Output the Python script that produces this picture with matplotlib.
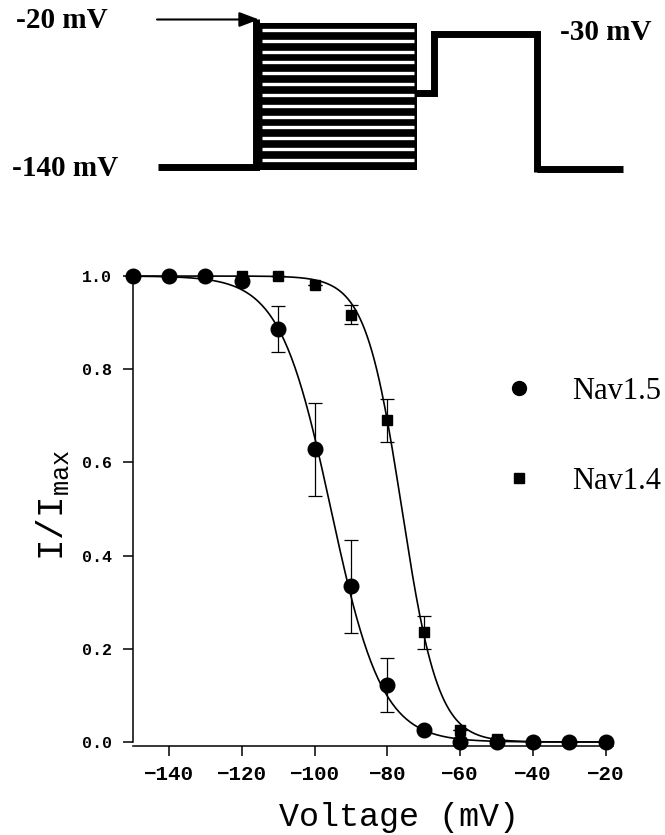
import numpy as np
import matplotlib
matplotlib.use("Agg")
import matplotlib.pyplot as plt
from matplotlib.lines import Line2D

plt.rcParams['mathtext.fontset'] = 'custom'
plt.rcParams['mathtext.rm'] = 'Liberation Mono'
plt.rcParams['mathtext.it'] = 'Liberation Mono'

# ---- data ----
nav15_v = [-150, -140, -130, -120, -110, -100, -90, -80, -70, -60, -50, -40, -30, -20]
nav15_i = [1.0, 1.0, 1.0, 0.99, 0.886, 0.628, 0.334, 0.122, 0.025, 0.0, 0.0, 0.0, 0.0, 0.0]
nav15_err = [0, 0, 0, 0, 0.05, 0.10, 0.10, 0.058, 0, 0, 0, 0, 0, 0]

nav14_v = [-120, -110, -100, -90, -80, -70, -60, -50, -40, -30, -20]
nav14_i = [1.0, 1.0, 0.981, 0.917, 0.69, 0.235, 0.025, 0.007, 0.0, 0.0, 0.0]
nav14_err = [0, 0, 0, 0.02, 0.046, 0.035, 0, 0, 0, 0, 0]

# Boltzmann fit parameters (V1/2, slope k) for the drawn fit curves
nav15_fit = (-95.5, 7.0)
nav14_fit = (-76.0, 5.0)

xticks = [-140, -120, -100, -80, -60, -40, -20]
yticks = [0.0, 0.2, 0.4, 0.6, 0.8, 1.0]

W, H = 665, 835
fig = plt.figure(figsize=(W / 100, H / 100), dpi=100)

# ---- main axes ----
ax = fig.add_axes([132.5 / W, 1 - 745.5 / H, 480.5 / W, 478.8 / H])
ax.set_xlim(-150, -18)
ax.set_ylim(-0.0075, 1.02)

vv = np.linspace(-150, -20, 400)
for (vh, k) in (nav15_fit, nav14_fit):
    ax.plot(vv, 1.0 / (1.0 + np.exp((vv - vh) / k)), color='black', lw=1.2, zorder=2)

ax.errorbar(nav15_v, nav15_i, yerr=nav15_err, fmt='none', ecolor='black',
            elinewidth=0.9, capsize=4.7, capthick=0.9, zorder=3, clip_on=False)
ax.errorbar(nav14_v, nav14_i, yerr=nav14_err, fmt='none', ecolor='black',
            elinewidth=0.9, capsize=4.7, capthick=0.9, zorder=3, clip_on=False)
ax.plot(nav14_v, nav14_i, 's', color='black', ms=7.5, zorder=4, clip_on=False)
ax.plot(nav15_v, nav15_i, 'o', color='black', ms=10.5, zorder=5, clip_on=False)

for s in ('top', 'right'):
    ax.spines[s].set_visible(False)
ax.spines['left'].set_bounds(0, 1)
ax.spines['left'].set_linewidth(1.1)
ax.spines['bottom'].set_linewidth(1.1)
ax.set_xticks(xticks)
ax.set_yticks(yticks)
ax.set_yticklabels([f"{t:.1f}" for t in yticks])
ax.tick_params(axis='both', direction='out', length=7, width=1.1, color='black')
ax.tick_params(axis='x', pad=7)
ax.tick_params(axis='y', pad=8)
for lab in ax.get_xticklabels():
    lab.set_fontfamily(['Liberation Mono', 'DejaVu Sans Mono'])
    lab.set_fontweight('bold')
    lab.set_fontsize(15)
for lab in ax.get_yticklabels():
    lab.set_fontfamily(['Liberation Mono', 'DejaVu Sans Mono'])
    lab.set_fontweight('bold')
    lab.set_fontsize(12)

ax.set_xlabel('Voltage (mV)', fontfamily='Liberation Mono', fontsize=24)
ax.xaxis.set_label_coords((399 - 132.5) / 480.5, -0.119)
ax.set_ylabel(r'$\mathrm{I/I_{max}}$', fontsize=26)
ax.yaxis.set_label_coords(-0.128, 0.502)

handles = [Line2D([], [], ls='none', marker='o', color='black', ms=10),
           Line2D([], [], ls='none', marker='s', color='black', ms=7)]
fig.legend(handles, ['Nav1.5', 'Nav1.4'], loc='center left',
           bbox_to_anchor=(482 / W, 1 - 436.5 / H), frameon=False,
           prop={'family': 'Liberation Serif', 'size': 22},
           handlelength=1.0, handletextpad=1.25, labelspacing=2.0, borderpad=0.2)

# ---- voltage protocol diagram (figure pixel coordinates) ----
d = fig.add_axes([0, 0, 1, 1], zorder=-1)
d.set_xlim(0, W)
d.set_ylim(H, 0)
d.axis('off')

lw = 5.0
d.add_patch(plt.Rectangle((259, 23), 158, 147, color='black', lw=0))
stripe_y = 30 + np.arange(13) * 10.83
for y in stripe_y:
    d.plot([262, 414], [y, y], color='white', lw=2.4, solid_capstyle='butt')
d.plot([158, 256, 256], [166.5, 166.5, 19], color='black', lw=lw,
       solid_joinstyle='miter', solid_capstyle='butt')
d.plot([415, 433.5, 433.5, 537, 537], [92.7, 92.7, 34, 34, 172], color='black',
       lw=lw, solid_joinstyle='miter', solid_capstyle='butt')
d.plot([537, 623], [169, 169], color='black', lw=lw, solid_capstyle='butt')
d.annotate('', xy=(259, 19.5), xytext=(157, 19.5),
           arrowprops=dict(arrowstyle='-|>,head_length=1.2,head_width=0.45',
                           color='black', lw=1.5, shrinkA=0, shrinkB=0))

tkw = dict(fontfamily='Liberation Serif', fontweight='bold', fontsize=21,
           va='center', color='black')
d.text(16, 20.5, '-20 mV', ha='left', **tkw)
d.text(12, 168, '-140 mV', ha='left', **tkw)
d.text(560, 33, '-30 mV', ha='left', **tkw)

fig.savefig('out.png', dpi=100)
